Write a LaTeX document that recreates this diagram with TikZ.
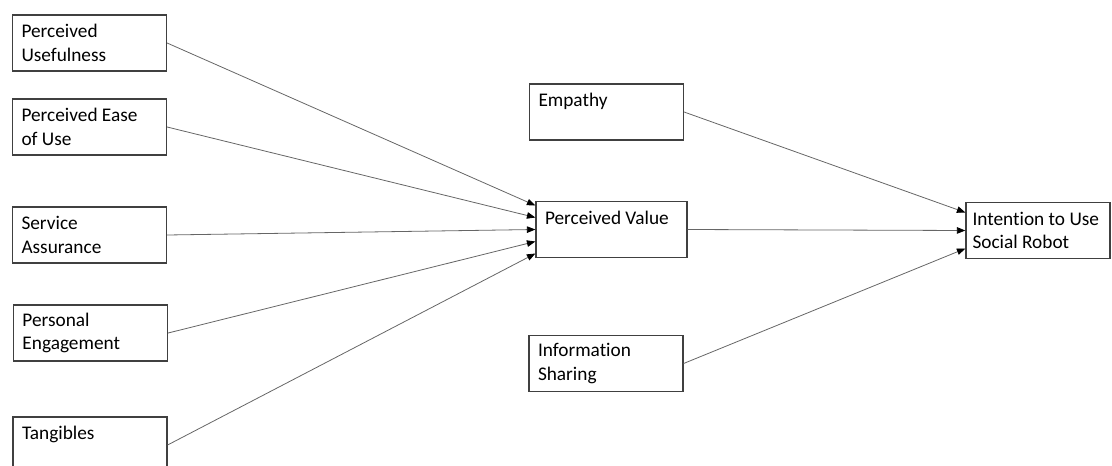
\documentclass[tikz,border=0pt]{standalone}
\usepackage{fontspec}
\setmainfont{Carlito}[Ligatures=NoCommon]
\usetikzlibrary{arrows.meta}

\tikzset{
  factor/.style={draw=black!75, line width=1.2pt, minimum height=56pt,
    text width=136pt, inner xsep=9pt, inner ysep=0pt, align=flush left,
    font=\fontsize{19.3}{23.5}\selectfont},
  link/.style={draw=black!60, line width=0.8pt,
    arrows={-Triangle[length=8.5pt,width=6.5pt,black]}}
}

\begin{document}
\begin{tikzpicture}[x=1pt,y=-1pt]

\useasboundingbox (0,0) rectangle (1112,466);

% antecedents
\node[factor] (pu)  at (89.5,43)  {Perceived\\ Usefulness};
\node[factor] (peu) at (89.5,127) {Perceived Ease\\ of Use};
\node[factor] (sa)  at (89.5,235) {Service\\ Assurance};
\node[factor] (pe)  at (90.5,333) {Personal\\ Engagement};
\node[factor] (tg)  at (90,445)   {Tangibles\\ \mbox{}};

% middle column
\node[factor] (emp) at (606.5,112) {Empathy\\ \mbox{}};
\node[factor, text width=133pt] (pv) at (611.5,229.5) {Perceived Value\\ \mbox{}};
\node[factor] (is)  at (606,363.5) {Information\\ Sharing};

% outcome
\node[factor, text width=131pt, inner xsep=6.5pt] (itu) at (1038,230.5) {Intention to Use\\ Social Robot};


\draw [link] (pu.east)  -- ([yshift=24pt]pv.west);
\draw [link] (peu.east) -- ([yshift=12pt]pv.west);
\draw [link] (sa.east)  -- (pv.west);
\draw [link] (pe.east)  -- ([yshift=-12pt]pv.west);
\draw [link] (tg.east)  -- ([yshift=-24pt]pv.west);

\draw [link] (emp.east) -- ([yshift=18pt]itu.west);
\draw [link] (pv.east)  -- (itu.west);
\draw [link] (is.east)  -- ([yshift=-18pt]itu.west);

\end{tikzpicture}
\end{document}
